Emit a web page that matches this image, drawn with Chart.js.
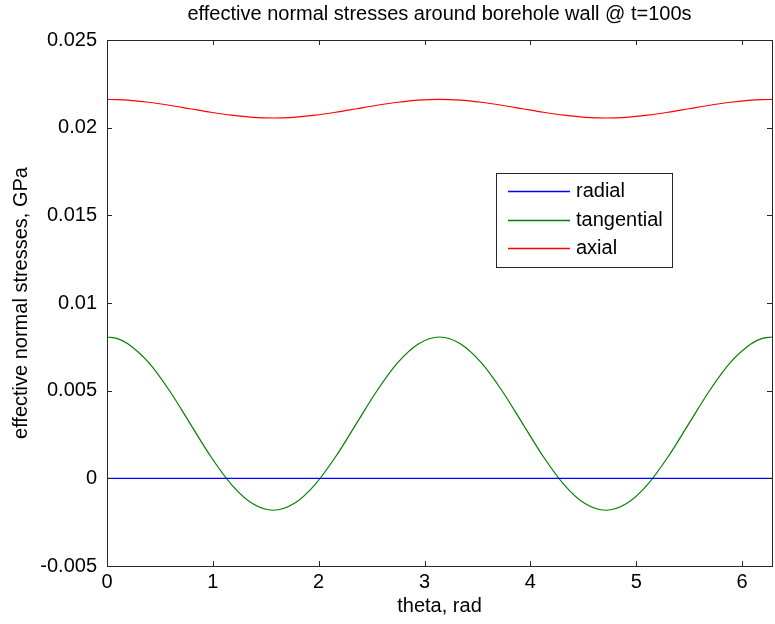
<!DOCTYPE html>
<html>
<head>
<meta charset="utf-8">
<script src="https://cdn.jsdelivr.net/npm/chart.js@4/dist/chart.umd.min.js"></script>
<style>
  html, body { margin: 0; padding: 0; background: #fff; }
  #wrap { width: 775px; height: 624px; }
</style>
</head>
<body>
<div id="wrap"><canvas id="stress-chart" width="775" height="624"></canvas></div>
<script>
// theta, rad (about pi/16 apart, a bit denser at the ends)
var theta = [0, 0.0982, 0.1963, 0.3927, 0.5890, 0.7854, 0.9817, 1.1781, 1.3744, 1.5708,
  1.7671, 1.9635, 2.1598, 2.3562, 2.5525, 2.7489, 2.9452, 3.1416,
  3.3379, 3.5343, 3.7306, 3.9270, 4.1233, 4.3197, 4.5160, 4.7124,
  4.9087, 5.1051, 5.3014, 5.4978, 5.6941, 5.8905, 6.0868, 6.1850, 6.2832];

var radial = [0, 0, 0, 0, 0, 0, 0, 0, 0, 0,
  0, 0, 0, 0, 0, 0, 0, 0,
  0, 0, 0, 0, 0, 0, 0, 0,
  0, 0, 0, 0, 0, 0, 0, 0, 0];

var tangential = [0.00806, 0.00797, 0.00768, 0.00661, 0.00501, 0.00312, 0.00123, -0.00037, -0.00144, -0.00182,
  -0.00144, -0.00037, 0.00123, 0.00312, 0.00501, 0.00661, 0.00768, 0.00806,
  0.00768, 0.00661, 0.00501, 0.00312, 0.00123, -0.00037, -0.00144, -0.00182,
  -0.00144, -0.00037, 0.00123, 0.00312, 0.00501, 0.00661, 0.00768, 0.00797, 0.00806];

var axial = [0.02161, 0.02160, 0.02157, 0.02145, 0.02128, 0.02108, 0.02088, 0.02071, 0.02059, 0.02055,
  0.02059, 0.02071, 0.02088, 0.02108, 0.02128, 0.02145, 0.02157, 0.02161,
  0.02157, 0.02145, 0.02128, 0.02108, 0.02088, 0.02071, 0.02059, 0.02055,
  0.02059, 0.02071, 0.02088, 0.02108, 0.02128, 0.02145, 0.02157, 0.02160, 0.02161];

var seriesNames = ["radial", "tangential", "axial"];
var seriesColors = ["#0000ff", "#008000", "#ff0000"];
var chartTitle = "effective normal stresses around borehole wall @ t=100s";
var xTitle = "theta, rad";
var yTitle = "effective normal stresses, GPa";

var FONT = "'Liberation Sans', Arial, sans-serif";
var FSIZE = 20;

function toPoints(ys) {
  return theta.map(function (t, i) { return { x: t, y: ys[i] }; });
}

// matlab style box, inward ticks, title and legend
var matlabFrame = {
  id: 'matlabFrame',
  afterDraw: function (chart) {
    var ctx = chart.ctx, a = chart.chartArea;
    var xs = chart.scales.x, ys = chart.scales.y;
    ctx.save();
    ctx.strokeStyle = '#262626';
    ctx.lineWidth = 1;
    ctx.strokeRect(Math.round(a.left) + 0.5, Math.round(a.top) + 0.5,
      Math.round(a.right - a.left), Math.round(a.bottom - a.top));
    var tl = 5;
    ctx.beginPath();
    xs.ticks.forEach(function (t) {
      var px = Math.round(xs.getPixelForValue(t.value)) + 0.5;
      ctx.moveTo(px, a.bottom); ctx.lineTo(px, a.bottom - tl);
      ctx.moveTo(px, a.top); ctx.lineTo(px, a.top + tl);
    });
    ys.ticks.forEach(function (t) {
      var py = Math.round(ys.getPixelForValue(t.value)) + 0.5;
      ctx.moveTo(a.left, py); ctx.lineTo(a.left + tl, py);
      ctx.moveTo(a.right, py); ctx.lineTo(a.right - tl, py);
    });
    ctx.stroke();

    // title
    ctx.fillStyle = '#000';
    ctx.font = FSIZE + 'px ' + FONT;
    ctx.textAlign = 'center';
    ctx.textBaseline = 'middle';
    ctx.fillText(chartTitle, (a.left + a.right) / 2, 14);

    // legend box
    var lx = 496, ly = 173, lw = 176, lh = 94;
    ctx.fillStyle = '#fff';
    ctx.fillRect(lx, ly, lw, lh);
    ctx.strokeStyle = '#262626';
    ctx.strokeRect(lx + 0.5, ly + 0.5, lw, lh);
    ctx.textAlign = 'left';
    chart.data.datasets.forEach(function (ds, i) {
      var ry = Math.round(ly + 18 + i * 28.5);
      ctx.strokeStyle = seriesColors[i];
      ctx.lineWidth = 1.3;
      ctx.beginPath();
      ctx.moveTo(lx + 12, ry + 0.5); ctx.lineTo(lx + 74, ry + 0.5);
      ctx.stroke();
      ctx.fillStyle = '#000';
      ctx.fillText(ds.label, lx + 80, ry);
    });
    ctx.restore();
  }
};

var datasets = [radial, tangential, axial].map(function (ys, i) {
  return {
    label: seriesNames[i],
    data: toPoints(ys),
    borderColor: seriesColors[i],
    borderWidth: 1.2,
    pointRadius: 0,
    cubicInterpolationMode: 'monotone',
    fill: false
  };
});

new Chart(document.getElementById('stress-chart'), {
  type: 'line',
  data: { datasets: datasets },
  options: {
    responsive: false,
    animation: false,
    layout: { padding: { top: 40, right: 3, left: 0, bottom: 0 } },
    plugins: { legend: { display: false }, title: { display: false }, tooltip: { enabled: false } },
    scales: {
      x: {
        type: 'linear',
        min: 0,
        max: 6.2832,
        grid: { display: false, drawTicks: false },
        border: { display: false },
        ticks: { stepSize: 1, includeBounds: false, color: '#000', font: { family: FONT, size: FSIZE }, padding: 4, maxRotation: 0 },
        title: { display: true, text: xTitle, color: '#000', font: { family: FONT, size: FSIZE }, padding: { top: 0, bottom: 6 } },
        afterFit: function (s) { s.height = 58; }
      },
      y: {
        type: 'linear',
        min: -0.005,
        max: 0.025,
        grid: { display: false, drawTicks: false },
        border: { display: false },
        ticks: {
          stepSize: 0.005, color: '#000', font: { family: FONT, size: FSIZE }, padding: 10,
          callback: function (v) { return String(Number(v.toFixed(3))); }
        },
        title: { display: true, text: yTitle, color: '#000', font: { family: FONT, size: FSIZE }, padding: { top: 9, bottom: 0 } },
        afterFit: function (s) { s.width = 107; }
      }
    }
  },
  plugins: [matlabFrame]
});
</script>
</body>
</html>
